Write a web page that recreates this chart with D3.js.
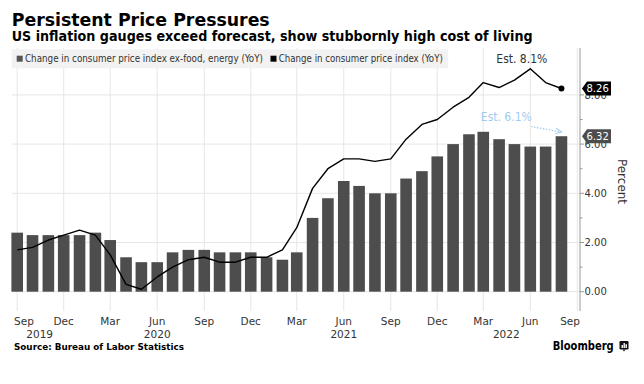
<!DOCTYPE html>
<html>
<head>
<meta charset="utf-8">
<script src="https://cdn.jsdelivr.net/npm/d3@7"></script>
<style>
  body { margin: 0; background: #fff; }
  svg { display: block; }
  text { font-family: "DejaVu Sans", Verdana, sans-serif; }
</style>
</head>
<body>
<svg width="644" height="384"></svg>
<script>
// months of the readings, first of month
var months = ["2019-09","2019-10","2019-11","2019-12","2020-01","2020-02","2020-03","2020-04",
  "2020-05","2020-06","2020-07","2020-08","2020-09","2020-10","2020-11","2020-12",
  "2021-01","2021-02","2021-03","2021-04","2021-05","2021-06","2021-07","2021-08",
  "2021-09","2021-10","2021-11","2021-12","2022-01","2022-02","2022-03","2022-04",
  "2022-05","2022-06","2022-07","2022-08"];

// core CPI (ex-food, energy) YoY, bars
var coreCpi = [2.4,2.3,2.3,2.3,2.3,2.4,2.1,1.4,1.2,1.2,1.6,1.7,1.7,1.6,1.6,1.6,
  1.4,1.3,1.6,3.0,3.8,4.5,4.3,4.0,4.0,4.6,4.9,5.5,6.0,6.4,6.5,6.2,6.0,5.9,5.9,6.32];

// headline CPI YoY, line
var headlineCpi = [1.7,1.8,2.1,2.3,2.5,2.3,1.5,0.3,0.1,0.6,1.0,1.3,1.4,1.2,1.2,1.4,
  1.4,1.7,2.6,4.2,5.0,5.4,5.4,5.3,5.4,6.2,6.8,7.0,7.5,7.9,8.5,8.3,8.6,9.06,8.5,8.26];

var yTicks = [0, 2, 4, 6, 8];
var yMinor = [1, 3, 5, 7];
var yearLabels = [["2019", "2019-10-15"], ["2020", "2020-06-01"], ["2021", "2021-06-01"], ["2022", "2022-04-15"]];
var legendLabels = ["Change in consumer price index ex-food, energy (YoY)", "Change in consumer price index (YoY)"];
var estimates = [["Est. 8.1%", 9.6], ["Est. 6.1%", 7.05]];

var parse = d3.timeParse("%Y-%m");
var parseDay = d3.timeParse("%Y-%m-%d");
var data = months.map(function(m, i) {
  return { date: parse(m), core: coreCpi[i], headline: headlineCpi[i] };
});

var svg = d3.select("svg");
svg.append("rect").attr("width", 644).attr("height", 384).attr("fill", "#fff");

var x = d3.scaleTime()
  .domain([parse("2019-09"), parse("2022-09")])
  .range([17.2, 577.3]);
var y = d3.scaleLinear().domain([0, 8]).range([291.7, 94.9]);

var plotTop = 48, plotBottom = 311, plotLeft = 12, axisX = 580;

// gridlines
var monthTicks = d3.timeMonth.range(parse("2019-09"), parseDay("2022-09-02"), 3);
svg.append("g").selectAll("line")
  .data(monthTicks)
  .enter().append("line")
  .attr("x1", function(d) { return x(d); })
  .attr("x2", function(d) { return x(d); })
  .attr("y1", plotTop).attr("y2", plotBottom)
  .attr("stroke", "#e6e6e6").attr("stroke-width", 1);

svg.append("g").selectAll("line")
  .data(yTicks)
  .enter().append("line")
  .attr("x1", plotLeft).attr("x2", axisX)
  .attr("y1", function(d) { return y(d); })
  .attr("y2", function(d) { return y(d); })
  .attr("stroke", "#e6e6e6").attr("stroke-width", 1);

// legend
var legend = svg.append("g");
legend.append("rect")
  .attr("x", 11.7).attr("y", 49.3).attr("width", 436.5).attr("height", 19)
  .attr("fill", "#f2f2f2");
var legendItems = [
  { x: 16.7, color: "#555", text: legendLabels[0], len: 238 },
  { x: 270.5, color: "#000", text: legendLabels[1], len: 164 }
];
legendItems.forEach(function(it) {
  legend.append("rect")
    .attr("x", it.x).attr("y", 55.7).attr("width", 6).attr("height", 6)
    .attr("fill", it.color);
  legend.append("text")
    .attr("x", it.x + 8.3).attr("y", 62.3)
    .attr("font-size", 10)
    .attr("textLength", it.len).attr("lengthAdjust", "spacingAndGlyphs")
    .style("font-family", "'Liberation Sans Narrow', 'DejaVu Sans Condensed', sans-serif")
    .attr("fill", "#333")
    .text(it.text);
});

// bars
var step = x(parse("2019-10")) - x(parse("2019-09"));
var barW = 11.6;
svg.append("g").selectAll("rect")
  .data(data)
  .enter().append("rect")
  .attr("x", function(d) { return x(d.date) - barW / 2; })
  .attr("width", barW)
  .attr("y", function(d) { return y(d.core); })
  .attr("height", function(d) { return y(0) - y(d.core); })
  .attr("fill", "#4d4d4d");

// line
var line = d3.line()
  .x(function(d) { return x(d.date); })
  .y(function(d) { return y(d.headline); });
svg.append("path")
  .datum(data)
  .attr("d", line)
  .attr("fill", "none")
  .attr("stroke", "#000")
  .attr("stroke-width", 1.4)
  .attr("stroke-linejoin", "round");

var last = data[data.length - 1];
svg.append("circle")
  .attr("cx", x(last.date)).attr("cy", y(last.headline))
  .attr("r", 3).attr("fill", "#000");

// right axis
svg.append("line")
  .attr("x1", axisX).attr("x2", axisX)
  .attr("y1", plotTop).attr("y2", plotBottom)
  .attr("stroke", "#999").attr("stroke-width", 1);

var yAxis = svg.append("g");
yAxis.selectAll("line.major")
  .data(yTicks)
  .enter().append("line")
  .attr("x1", axisX).attr("x2", axisX + 4)
  .attr("y1", function(d) { return y(d); })
  .attr("y2", function(d) { return y(d); })
  .attr("stroke", "#999");
yAxis.selectAll("line.minor")
  .data(yMinor)
  .enter().append("line")
  .attr("x1", axisX).attr("x2", axisX + 2.5)
  .attr("y1", function(d) { return y(d); })
  .attr("y2", function(d) { return y(d); })
  .attr("stroke", "#999");
yAxis.selectAll("text")
  .data(yTicks)
  .enter().append("text")
  .attr("x", axisX + 4.5)
  .attr("y", function(d) { return y(d) + 3.7; })
  .attr("font-size", 10)
  .attr("fill", "#333")
  .text(function(d) { return d3.format(".2f")(d); });

svg.append("text")
  .attr("transform", "translate(618,181.5) rotate(90)")
  .attr("text-anchor", "middle")
  .attr("font-size", 12)
  .attr("fill", "#333")
  .text("Percent");

// last value boxes
function valueBox(v, color) {
  var cy = y(v);
  var g = svg.append("g");
  g.append("path")
    .attr("d", "M582," + cy + "L587," + (cy - 7) + "L611," + (cy - 7) + "L611," + (cy + 7) + "L587," + (cy + 7) + "Z")
    .attr("fill", color);
  g.append("text")
    .attr("x", 586.5).attr("y", cy + 3.6)
    .attr("font-size", 10)
    .attr("fill", "#fff")
    .text(d3.format(".2f")(v));
}
valueBox(last.headline, "#000");
valueBox(last.core, "#4d4d4d");

// bottom axis labels
svg.append("g").selectAll("text")
  .data(monthTicks)
  .enter().append("text")
  .attr("y", 325)
  .attr("font-size", 10.5)
  .attr("fill", "#333")
  .text(function(d) { return d3.timeFormat("%b")(d); })
  .attr("x", function(d) {
    var w = this.getComputedTextLength();
    var cx = x(d) - w / 2;
    return Math.max(14, Math.min(axisX - w, cx));
  });

svg.append("g").selectAll("text")
  .data(yearLabels)
  .enter().append("text")
  .attr("x", function(d) { return x(parseDay(d[1])); })
  .attr("y", 337.5)
  .attr("text-anchor", "middle")
  .attr("font-size", 10.5)
  .attr("fill", "#333")
  .text(function(d) { return d[0]; });

// estimate annotations
svg.append("text")
  .attr("x", 521.8).attr("y", 62.7)
  .attr("text-anchor", "middle")
  .attr("font-size", 12)
  .style("font-family", "'Liberation Sans Narrow', 'DejaVu Sans Condensed', sans-serif")
  .attr("fill", "#333")
  .text(estimates[0][0]);

svg.append("text")
  .attr("x", 506.3).attr("y", 121)
  .attr("text-anchor", "middle")
  .attr("font-size", 12)
  .style("font-family", "'Liberation Sans Narrow', 'DejaVu Sans Condensed', sans-serif")
  .attr("fill", "#9fcbf0")
  .text(estimates[1][0]);

svg.append("defs").append("marker")
  .attr("id", "arr")
  .attr("viewBox", "0 0 10 10")
  .attr("refX", 8).attr("refY", 5)
  .attr("markerWidth", 6).attr("markerHeight", 6)
  .attr("orient", "auto")
  .append("path")
  .attr("d", "M0,1L9,5L0,9")
  .attr("fill", "none")
  .attr("stroke", "#9fcbf0")
  .attr("stroke-width", 1.5);

svg.append("line")
  .attr("x1", 531).attr("y1", 126.5)
  .attr("x2", 561).attr("y2", 132)
  .attr("stroke", "#9fcbf0")
  .attr("stroke-width", 1.2)
  .attr("stroke-dasharray", "1.5,1.5")
  .attr("marker-end", "url(#arr)");

// titles
svg.append("text")
  .attr("x", 11.7).attr("y", 25.7)
  .attr("font-size", 18).attr("font-weight", "bold")
  .attr("textLength", 258).attr("lengthAdjust", "spacingAndGlyphs")
  .attr("fill", "#000")
  .text("Persistent Price Pressures");

svg.append("text")
  .attr("x", 11.7).attr("y", 40.7)
  .attr("font-size", 14).attr("font-weight", "bold")
  .attr("textLength", 521).attr("lengthAdjust", "spacingAndGlyphs")
  .attr("fill", "#000")
  .text("US inflation gauges exceed forecast, show stubbornly high cost of living");

// footer
svg.append("text")
  .attr("x", 14).attr("y", 350)
  .attr("font-size", 9.5).attr("font-weight", "bold")
  .attr("textLength", 170).attr("lengthAdjust", "spacingAndGlyphs")
  .attr("fill", "#000")
  .text("Source: Bureau of Labor Statistics");

svg.append("text")
  .attr("x", 552.7).attr("y", 350)
  .attr("font-size", 12.5).attr("font-weight", "bold")
  .attr("textLength", 61).attr("lengthAdjust", "spacingAndGlyphs")
  .attr("fill", "#000")
  .text("Bloomberg");

var logo = svg.append("g").attr("transform", "translate(619.5,341)");
logo.append("rect").attr("width", 9).attr("height", 8.5).attr("rx", 1.2).attr("fill", "#111");
logo.append("path").attr("d", "M3,8.5L4.5,10.5L6,8.5Z").attr("fill", "#111");
logo.append("rect").attr("x", 2).attr("y", 4).attr("width", 1.4).attr("height", 3).attr("fill", "#fff");
logo.append("rect").attr("x", 4).attr("y", 2).attr("width", 1.4).attr("height", 5).attr("fill", "#fff");
logo.append("rect").attr("x", 6).attr("y", 3.2).attr("width", 1.4).attr("height", 3.8).attr("fill", "#fff");
</script>
</body>
</html>
